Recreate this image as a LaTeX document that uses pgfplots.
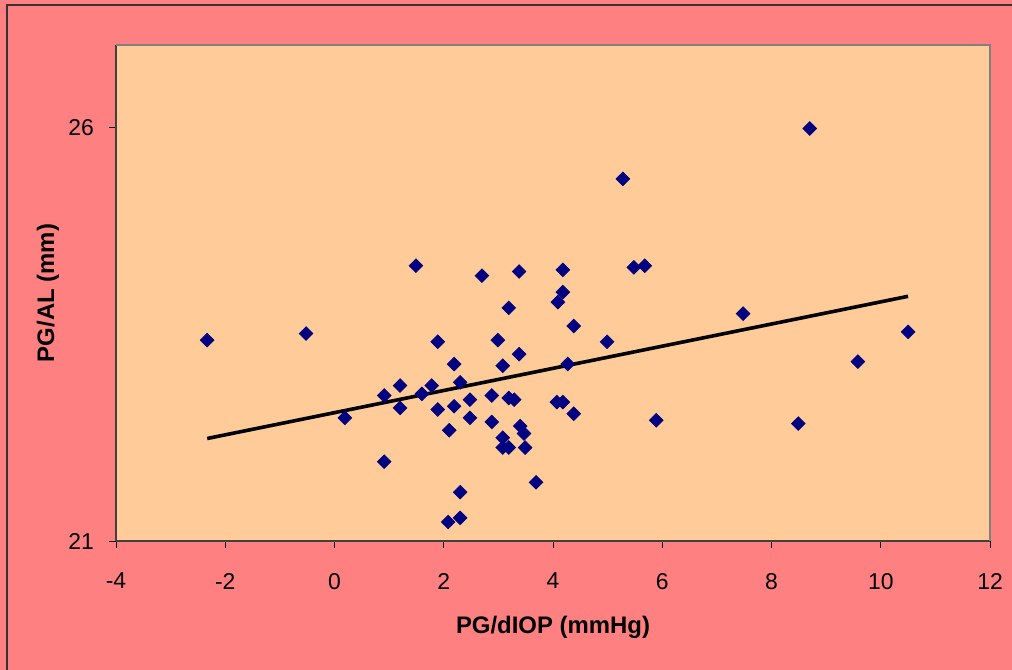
\documentclass[border=0pt]{standalone}
\usepackage{fontspec}
\setmainfont{Liberation Sans}
\usepackage{pgfplots}
\pgfplotsset{compat=1.18}

\definecolor{outerbg}{HTML}{FF8080}
\definecolor{plotbg}{HTML}{FFCC99}
\definecolor{navymark}{HTML}{000080}

\begin{document}
\begin{tikzpicture}
  % page = 1012x670 px at 0.5bp per px; axis box lower-left at origin
  \useasboundingbox (-58bp,-64.5bp) rectangle (448bp,270.5bp);
  \fill[outerbg] (-58bp,-64.5bp) rectangle (448bp,270.5bp);
  \draw[black!80, line width=1bp] (-54.5bp,-80bp) -- (-54.5bp,268bp) -- (460bp,268bp);

  \begin{axis}[
    at={(0,0)}, anchor=south west,
    scale only axis,
    width=437bp, height=248bp,
    xmin=-4, xmax=12,
    ymin=21, ymax=27,
    xtick={-4,-2,0,2,4,6,8,10,12},
    ytick={21,26},
    axis lines*=left,
    axis line style={-, draw=black!75, line width=0.8pt},
    axis background/.style={fill=plotbg},
    tick align=outside,
    major tick length=3.5bp,
    tick style={black, line width=0.5pt},
    tick label style={font=\fontsize{11.5}{13}\selectfont},
    /pgf/number format/assume math mode=true,
    xticklabel style={yshift=-9bp},
    yticklabel style={xshift=-4bp},
    clip=false,
  ]
    \draw[gray, line width=0.8pt] (axis description cs:0,1) -- (axis description cs:1,1) -- (axis description cs:1,0);

    \addplot[only marks, mark=square*, mark size=2.4bp,
      mark options={rotate=45, fill=navymark, draw=navymark}]
      coordinates {
      (-2.33,23.43) (-0.52,23.51) (0.19,22.49) (0.91,22.76) (0.91,21.96)
      (1.20,22.88) (1.20,22.61) (1.49,24.33) (1.60,22.78) (1.78,22.88)
      (1.89,23.41) (1.89,22.59) (2.10,22.34) (2.08,21.23) (2.19,23.14)
      (2.19,22.63) (2.30,22.92) (2.30,21.59) (2.30,21.28) (2.48,22.71)
      (2.48,22.49) (2.70,24.21) (2.88,22.76) (2.88,22.44) (2.99,23.43)
      (3.08,23.12) (3.08,22.25) (3.08,22.13) (3.19,23.82) (3.19,22.73)
      (3.19,22.13) (3.29,22.71) (3.38,24.26) (3.38,23.26) (3.40,22.39)
      (3.47,22.30) (3.49,22.13) (3.69,21.71) (4.09,23.89) (4.07,22.68)
      (4.18,24.28) (4.18,24.01) (4.18,22.68) (4.27,23.14) (4.38,23.60)
      (4.38,22.54) (4.99,23.41) (5.28,25.38) (5.48,24.31) (5.68,24.33)
      (5.89,22.46) (7.48,23.75) (8.70,25.99) (8.49,22.42) (9.58,23.17)
      (10.50,23.53)
      };

    \addplot[no markers, black, line width=1.8bp]
      coordinates {(-2.33,22.24) (10.50,23.96)};
  \end{axis}

  \node[font=\bfseries\fontsize{12}{14}\selectfont] at (218.5bp,-43bp) {PG/dIOP (mmHg)};
  \node[font=\bfseries\fontsize{12}{14}\selectfont, rotate=90] at (-34bp,124bp) {PG/AL (mm)};
\end{tikzpicture}
\end{document}
